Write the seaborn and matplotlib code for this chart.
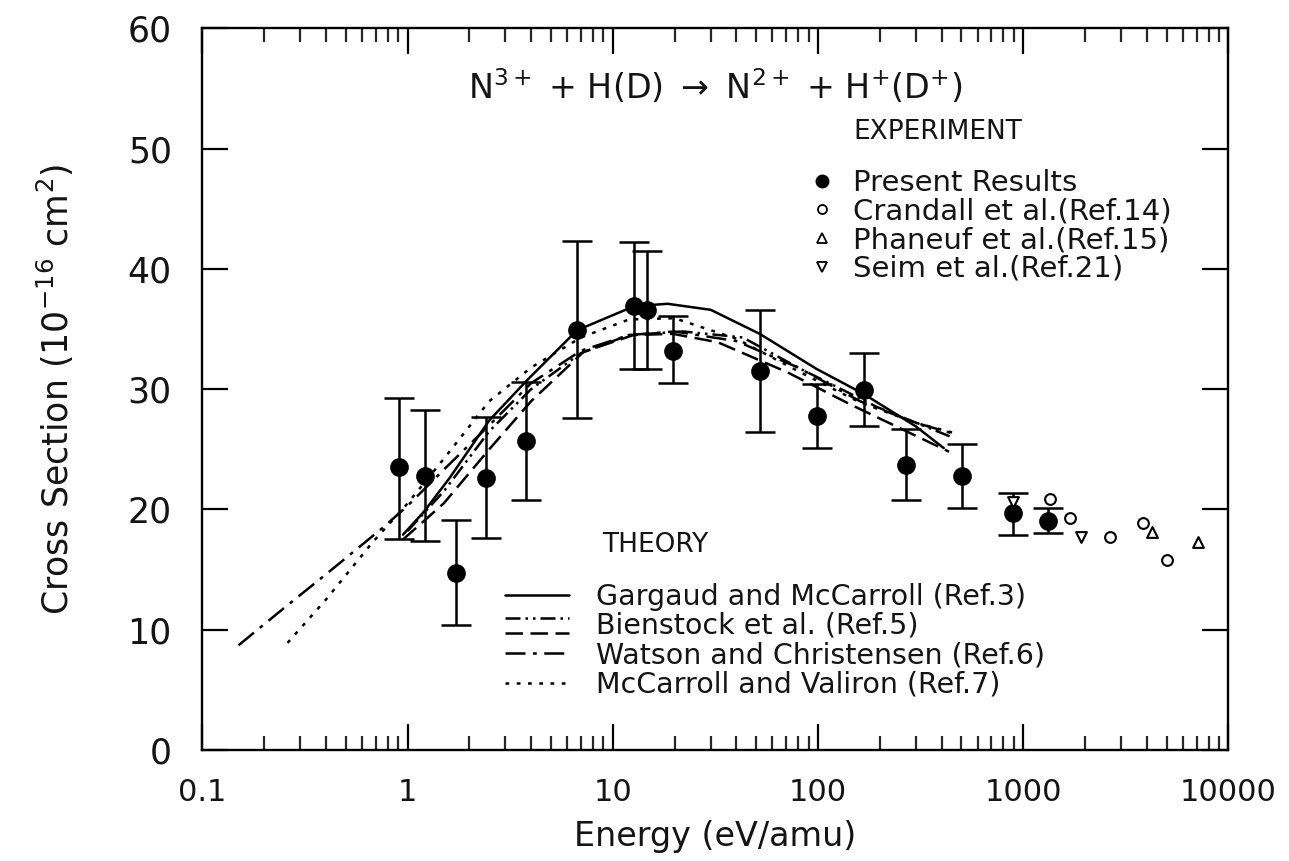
import numpy as np
import pandas as pd
import matplotlib
matplotlib.use('Agg')
import matplotlib.pyplot as plt
import matplotlib.ticker as tkr
from matplotlib.lines import Line2D
from matplotlib.legend_handler import HandlerBase
import seaborn as sns

# present results (filled circles with error bars)
pres_x = [0.91, 1.22, 1.73, 2.42, 3.76, 6.7, 12.7, 14.6, 19.6, 52, 99, 167, 267, 506, 893, 1325]
pres_y = [23.5, 22.8, 14.7, 22.6, 25.7, 34.9, 36.9, 36.6, 33.2, 31.5, 27.8, 29.9, 23.7, 22.8, 19.7, 19.0]
pres_lo = [17.5, 17.4, 10.4, 17.6, 20.8, 27.6, 31.7, 31.7, 30.5, 26.4, 25.1, 26.9, 20.8, 20.1, 17.9, 18.0]
pres_hi = [29.3, 28.3, 19.1, 27.7, 30.6, 42.3, 42.2, 41.5, 36.1, 36.6, 30.4, 33.0, 26.7, 25.4, 21.4, 20.1]

# other experiments
crandall_x = [1350, 1700, 2640, 3820, 5030]
crandall_y = [20.9, 19.3, 17.7, 18.9, 15.8]
phaneuf_x = [4250, 7100]
phaneuf_y = [18.1, 17.3]
seim_x = [890, 1910]
seim_y = [20.6, 17.7]

# theory curves
garg_x = [0.95, 1.2, 1.6, 2.5, 3.85, 6.7, 12.7, 18.5, 30, 52, 98, 167, 300, 410]
garg_y = [17.9, 19.8, 22.6, 27.4, 30.8, 34.9, 36.9, 37.1, 36.6, 34.6, 31.7, 29.6, 26.9, 25.1]
bien1_x = [1.0, 1.5, 2.5, 4, 7, 12, 22, 43, 82, 195, 450]
bien1_y = [18.2, 21.5, 26.5, 30.0, 33.0, 34.5, 34.8, 34.3, 31.7, 28.5, 26.0]
bien2_x = [0.95, 1.5, 2.5, 4, 7.2, 12.6, 19.6, 32.5, 71, 145, 435]
bien2_y = [17.5, 20.5, 25.0, 29.0, 33.1, 34.5, 34.6, 33.9, 31.4, 28.7, 24.8]
wats_x = [0.15, 0.25, 0.4, 0.76, 1.0, 1.5, 2.5, 4, 7, 12, 20, 40, 80, 160, 300, 457]
wats_y = [8.7, 11.8, 14.6, 18.5, 20.3, 23.3, 27.0, 30.5, 33.2, 34.5, 34.8, 34.0, 31.8, 29.0, 27.2, 26.3]
mcc_x = [0.26, 0.4, 0.67, 1.0, 1.5, 2.5, 4, 7, 12, 20, 40, 80, 160, 300, 450]
mcc_y = [8.9, 12.5, 17.2, 20.5, 24.2, 29.0, 31.8, 34.3, 35.8, 35.9, 34.2, 31.5, 28.9, 27.2, 26.4]

theory_labels = ['Gargaud and McCarroll (Ref.3)', 'Bienstock et al. (Ref.5)',
                 'Watson and Christensen (Ref.6)', 'McCarroll and Valiron (Ref.7)']
exp_labels = ['Present Results', 'Crandall et al.(Ref.14)',
              'Phaneuf et al.(Ref.15)', 'Seim et al.(Ref.21)']

sns.set_theme(style='ticks')
plt.rcParams['font.family'] = ['DejaVu Sans']
plt.rcParams['mathtext.fontset'] = 'dejavusans'

txt = '#141414'
fig = plt.figure(figsize=(12.89, 8.61), dpi=100)
ax = fig.add_axes([0.157, 0.129, 0.796, 0.838])
ax.set_xscale('log')

lw = 1.8
ls_bien1 = (0, (6, 2, 1, 2, 1, 2))
ls_bien2 = (0, (7, 3))
ls_wats = (0, (8, 3, 1.5, 3))
ls_mcc = (0, (1.5, 3))

sns.lineplot(x=garg_x, y=garg_y, ax=ax, color='black', lw=lw, sort=False)
sns.lineplot(x=bien1_x, y=bien1_y, ax=ax, color='black', lw=lw, linestyle=ls_bien1, sort=False)
sns.lineplot(x=bien2_x, y=bien2_y, ax=ax, color='black', lw=lw, linestyle=ls_bien2, sort=False)
sns.lineplot(x=wats_x, y=wats_y, ax=ax, color='black', lw=lw, linestyle=ls_wats, sort=False)
sns.lineplot(x=mcc_x, y=mcc_y, ax=ax, color='black', lw=lw, linestyle=ls_mcc, sort=False)

yerr = [np.array(pres_y) - np.array(pres_lo), np.array(pres_hi) - np.array(pres_y)]
ax.errorbar(pres_x, pres_y, yerr=yerr, fmt='none', ecolor='black', elinewidth=1.8,
            capsize=11, capthick=1.8)
sns.scatterplot(x=pres_x, y=pres_y, ax=ax, marker='o', s=155, color='black',
                edgecolor='black', zorder=5)
sns.scatterplot(x=crandall_x, y=crandall_y, ax=ax, marker='o', s=60, facecolor='white',
                edgecolor='black', linewidth=1.5, zorder=5)
sns.scatterplot(x=phaneuf_x, y=phaneuf_y, ax=ax, marker='^', s=60, facecolor='white',
                edgecolor='black', linewidth=1.5, zorder=5)
sns.scatterplot(x=seim_x, y=seim_y, ax=ax, marker='v', s=60, facecolor='white',
                edgecolor='black', linewidth=1.5, zorder=5)

ax.set_xlim(0.1, 10000)
ax.set_ylim(0, 60)
ax.set_yticks([0, 10, 20, 30, 40, 50, 60])
ax.xaxis.set_major_locator(tkr.LogLocator(base=10, numticks=10))
ax.xaxis.set_minor_locator(tkr.LogLocator(base=10, subs=np.arange(2, 10), numticks=20))
ax.xaxis.set_major_formatter(tkr.FuncFormatter(lambda v, p: '{:g}'.format(v)))
ax.xaxis.set_minor_formatter(tkr.NullFormatter())
ax.tick_params(which='major', direction='in', length=19, width=1.6, top=True, right=True,
               color='black', labelcolor=txt)
ax.tick_params(which='minor', direction='in', length=10, width=1.6, top=True, right=True)
ax.tick_params(axis='y', pad=22, labelsize=25)
ax.tick_params(axis='x', pad=20, labelsize=22)
for s in ax.spines.values():
    s.set_linewidth(1.7)
    s.set_color('black')

ax.set_xlabel('Energy (eV/amu)', fontsize=24, color=txt)
ax.set_ylabel('Cross Section (10$^{-16}$ cm$^{2}$)', fontsize=25, color=txt)
ax.xaxis.set_label_coords(0.5, -0.097)
ax.yaxis.set_label_coords(-0.123, 0.5)

ax.text(0.5, 0.919, r'N$^{3+}$ + H(D) $\rightarrow$ N$^{2+}$ + H$^{+}$(D$^{+}$)',
        transform=ax.transAxes, ha='center', va='center', fontsize=24, color=txt)
ax.text(0.634, 0.857, 'EXPERIMENT', transform=ax.transAxes, ha='left', va='center',
        fontsize=19, color=txt)
ax.text(0.390, 0.284, 'THEORY', transform=ax.transAxes, ha='left', va='center',
        fontsize=19, color=txt)


class TwoLines(HandlerBase):
    def create_artists(self, legend, orig_handle, xd, yd, w, h, fontsize, trans):
        a = Line2D([-xd, -xd + w], [-yd + h * 0.8] * 2, color='black', lw=lw,
                   transform=trans)
        a.set_dashes(ls_bien1[1])
        b = Line2D([-xd, -xd + w], [-yd + h * 0.05] * 2, color='black', lw=lw,
                   transform=trans)
        b.set_dashes(ls_bien2[1])
        return [a, b]


exp_handles = [
    Line2D([], [], marker='o', ls='none', color='black', markersize=9),
    Line2D([], [], marker='o', ls='none', mfc='white', mec='black', markersize=6.5, mew=1.3),
    Line2D([], [], marker='^', ls='none', mfc='white', mec='black', markersize=6.5, mew=1.3),
    Line2D([], [], marker='v', ls='none', mfc='white', mec='black', markersize=6.5, mew=1.3),
]
leg1 = ax.legend(exp_handles, exp_labels, loc='upper left', bbox_to_anchor=(0.600, 0.805),
                 frameon=False, fontsize=21, handlelength=0.3, handletextpad=0.9,
                 labelspacing=0.02, borderpad=0, borderaxespad=0)
ax.add_artist(leg1)

h_garg = Line2D([], [], color='black', lw=lw)
h_b1 = Line2D([], [], color='black', lw=lw, linestyle=ls_bien1)
h_b2 = Line2D([], [], color='black', lw=lw, linestyle=ls_bien2)
h_wats = Line2D([], [], color='black', lw=lw, linestyle=ls_wats)
h_mcc = Line2D([], [], color='black', lw=lw, linestyle=ls_mcc)
leg2 = ax.legend([h_garg, (h_b1, h_b2), h_wats, h_mcc], theory_labels, loc='upper left',
                 bbox_to_anchor=(0.295, 0.232), frameon=False, fontsize=20.5,
                 handlelength=2.25, handletextpad=0.95, labelspacing=0.05,
                 borderpad=0, borderaxespad=0, handler_map={tuple: TwoLines()})
for t in leg1.get_texts() + leg2.get_texts():
    t.set_color(txt)

fig.savefig('out.png', dpi=100)
